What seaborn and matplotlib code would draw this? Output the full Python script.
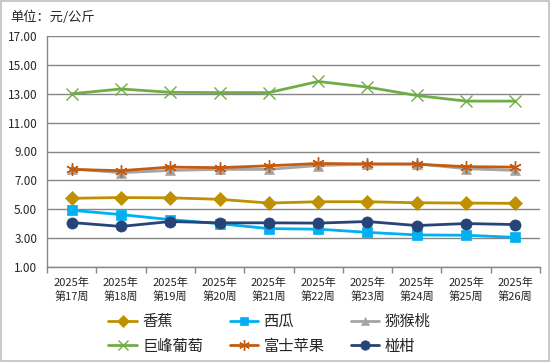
import matplotlib
matplotlib.use("Agg")
import matplotlib.pyplot as plt
from matplotlib.patches import Rectangle
import seaborn as sns
import pandas as pd

weeks = ["2025年\n第17周", "2025年\n第18周", "2025年\n第19周", "2025年\n第20周", "2025年\n第21周",
         "2025年\n第22周", "2025年\n第23周", "2025年\n第24周", "2025年\n第25周", "2025年\n第26周"]
banana = [5.76, 5.81, 5.79, 5.69, 5.43, 5.52, 5.52, 5.45, 5.43, 5.41]
watermelon = [4.93, 4.63, 4.28, 4.00, 3.66, 3.62, 3.40, 3.22, 3.20, 3.05]
kiwi = [7.80, 7.53, 7.69, 7.76, 7.76, 8.03, 8.12, 8.15, 7.81, 7.69]
grape = [13.00, 13.33, 13.10, 13.08, 13.08, 13.85, 13.46, 12.88, 12.49, 12.49]
fuji = [7.76, 7.67, 7.92, 7.88, 8.01, 8.17, 8.14, 8.12, 7.95, 7.92]
tangerine = [4.08, 3.81, 4.15, 4.06, 4.06, 4.04, 4.15, 3.87, 4.01, 3.94]

names = ["香蕉", "西瓜", "猕猴桃", "巨峰葡萄", "富士苹果", "椪柑"]
series = [banana, watermelon, kiwi, grape, fuji, tangerine]
colors = ["#BF9000", "#00B0F0", "#A5A5A5", "#70AD47", "#C55A11", "#264478"]
markers = ["D", "s", "^", "x", (6, 2, 0), "o"]
msizes = [7, 6.5, 7.5, 8, 9, 8]

rows = []
for n, vals in zip(names, series):
    for i, v in enumerate(vals):
        rows.append({"idx": i, "price": v, "fruit": n})
df = pd.DataFrame(rows)

sns.set_theme(style="white")
plt.rcParams["font.family"] = ["Noto Sans CJK SC", "DejaVu Sans"]

fig = plt.figure(figsize=(5.5, 3.62), dpi=100)
ax = fig.add_axes([47 / 550, 1 - 267 / 362, (540 - 47) / 550, (267 - 36) / 362])

for n, c, m, ms in zip(names, colors, markers, msizes):
    sub = df[df["fruit"] == n]
    sns.lineplot(data=sub, x="idx", y="price", ax=ax, color=c, marker=m,
                 markersize=ms, linewidth=2.0, markeredgecolor=c,
                 markeredgewidth=1.0 if m in ("x", (6, 2, 0)) else 0.5,
                 label=n, legend=False, zorder=3)

ax.set_xlim(-0.5, 9.5)
ax.set_ylim(1, 17)
ax.set_yticks([1, 3, 5, 7, 9, 11, 13, 15, 17])
ax.set_yticklabels([f"{v:.2f}" for v in [1, 3, 5, 7, 9, 11, 13, 15, 17]], fontsize=8.5)
ax.set_xticks(range(10))
ax.set_xticklabels(weeks, fontsize=8, linespacing=1.25)
ax.set_xticks([i - 0.5 for i in range(11)], minor=True)
ax.tick_params(axis="x", which="major", length=0, pad=8)
ax.tick_params(axis="x", which="minor", length=4, color="#868686", direction="out", bottom=True)
ax.tick_params(axis="y", length=0, pad=7)
ax.grid(axis="y", color="#868686", linewidth=1)
ax.set_axisbelow(True)
for s in ["top", "right"]:
    ax.spines[s].set_visible(False)
for s in ["left", "bottom"]:
    ax.spines[s].set_color("#868686")
    ax.spines[s].set_linewidth(1)
ax.set_xlabel("")
ax.set_ylabel("")

handles, labels = ax.get_legend_handles_labels()
order = [0, 3, 1, 4, 2, 5]
fig.legend([handles[i] for i in order], [labels[i] for i in order],
           loc="center", bbox_to_anchor=(269.5 / 550, 1 - 334 / 362), ncol=3, frameon=False,
           fontsize=11, handlelength=1.85, columnspacing=1.75, handletextpad=0.35,
           labelspacing=0.5, borderpad=0.2, markerscale=0.85)

fig.text(10 / 550, 1 - 17 / 362, "单位：元/公斤", fontsize=9.5, va="center", ha="left")
fig.patches.append(Rectangle((0.001, 0.002), 0.997, 0.995, transform=fig.transFigure,
                             fill=False, edgecolor="#BFBFBF", linewidth=1.2))

fig.savefig("out.png", dpi=100)
